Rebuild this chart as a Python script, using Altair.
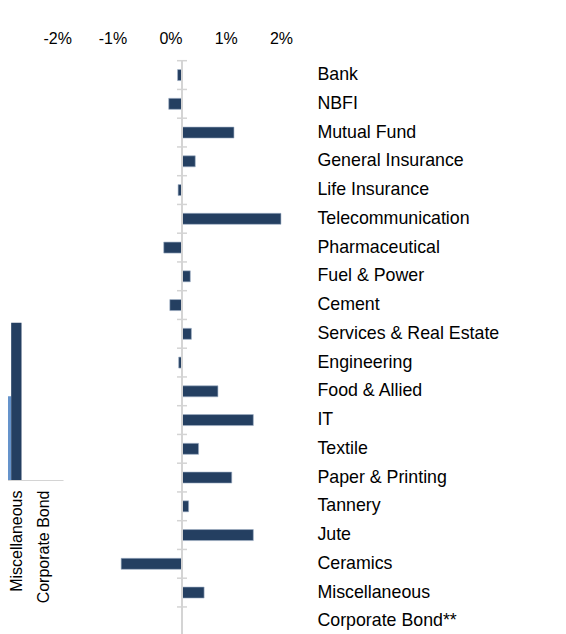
import altair as alt
import pandas as pd

# ---- main chart data (change in %) ----
sectors = ["Bank", "NBFI", "Mutual Fund", "General Insurance", "Life Insurance",
           "Telecommunication", "Pharmaceutical", "Fuel & Power", "Cement",
           "Services & Real Estate", "Engineering", "Food & Allied", "IT", "Textile",
           "Paper & Printing", "Tannery", "Jute", "Ceramics", "Miscellaneous",
           "Corporate Bond**"]
changes = [-0.08, -0.24, 0.94, 0.24, -0.07, 1.79, -0.33, 0.15, -0.22, 0.17,
           -0.06, 0.65, 1.29, 0.30, 0.90, 0.12, 1.29, -1.10, 0.40, 0.0]
tick_values = [-2, -1, 0, 1, 2]

# ---- partially visible neighbouring chart (left) ----
left_categories = ["Miscellaneous", "Corporate Bond"]
left_series = ["Series 1", "Series 2", "Series 3"]
left_s1 = [1.27, 0.0]
left_s2 = [0.80, 0.0]
left_s3 = [1.50, 0.0]

FONT = "Liberation Sans"
NAVY = "#243f61"
AXIS_GREY = "#d4d4d4"

df = pd.DataFrame({"sector": sectors, "change": changes})

rows = []
for s, vals in zip(left_series, [left_s1, left_s2, left_s3]):
    for c, v in zip(left_categories, vals):
        rows.append({"category": c, "series": s, "value": v})
left_df = pd.DataFrame(rows)

x_scale = alt.Scale(domain=[-2, 2.25], nice=False)
y_scale = alt.Scale(paddingInner=0, paddingOuter=0)
y_axis = alt.Axis(orient="right", title=None, ticks=False, domain=False,
                  labelFontSize=17.8, labelFont=FONT, labelColor="black",
                  labelPadding=10.5, labelAlign="left", labelLimit=400)
x_axis = alt.Axis(orient="top", values=tick_values, labelExpr="datum.value + '%'",
                  title=None, grid=False, ticks=False, tickSize=0, domain=False,
                  labelAlign="right", labelFontSize=16, labelFont=FONT,
                  labelColor="black", labelPadding=14)

bars = alt.Chart(df).mark_bar(size=11, color=NAVY, stroke="#9fb0c6", strokeWidth=0.6).encode(
    x=alt.X("change:Q", scale=x_scale, axis=x_axis),
    x2=alt.datum(0),
    y=alt.Y("sector:N", sort=sectors, scale=y_scale, axis=y_axis),
)

zero_line = alt.Chart(df).mark_rule(color=AXIS_GREY, strokeWidth=1.5).encode(
    x=alt.datum(0)
)

tick_marks = alt.Chart(df).mark_rule(color=AXIS_GREY, strokeWidth=1.5,
                                     xOffset=-5, x2Offset=5).encode(
    x=alt.datum(0),
    x2=alt.datum(0),
    y=alt.Y("sector:N", sort=sectors, scale=y_scale, axis=y_axis, bandPosition=0),
)

main = alt.layer(bars, zero_line, tick_marks).properties(width=235, height=575)

left = alt.Chart(left_df).mark_bar().encode(
    x=alt.X("category:N", sort=left_categories,
            scale=alt.Scale(paddingInner=0.184, paddingOuter=0.092),
            axis=alt.Axis(title=None, labelAngle=-90, labelFontSize=16, labelFont=FONT,
                          labelColor="black", ticks=False, domainColor=AXIS_GREY,
                          labelPadding=10, labelLimit=300,
                          labelOffset={"expr": "datum.value == 'Miscellaneous' ? 10.5 : 0"})),
    xOffset=alt.XOffset("series:N", sort=left_series),
    y=alt.Y("value:Q", scale=alt.Scale(domain=[0, 4]), axis=None),
    color=alt.Color("series:N", scale=alt.Scale(domain=left_series,
                    range=["#c6d7ee", "#6593cb", NAVY]), legend=None),
).properties(width=76, height=419.3)

chart = alt.hconcat(left, main, spacing=8.4, bounds="flush").properties(
    padding={"left": -21, "top": 22.7, "right": 5, "bottom": 0}
).configure_view(stroke=None)

chart.save("out.html", embed_options={"renderer": "svg", "actions": False})
